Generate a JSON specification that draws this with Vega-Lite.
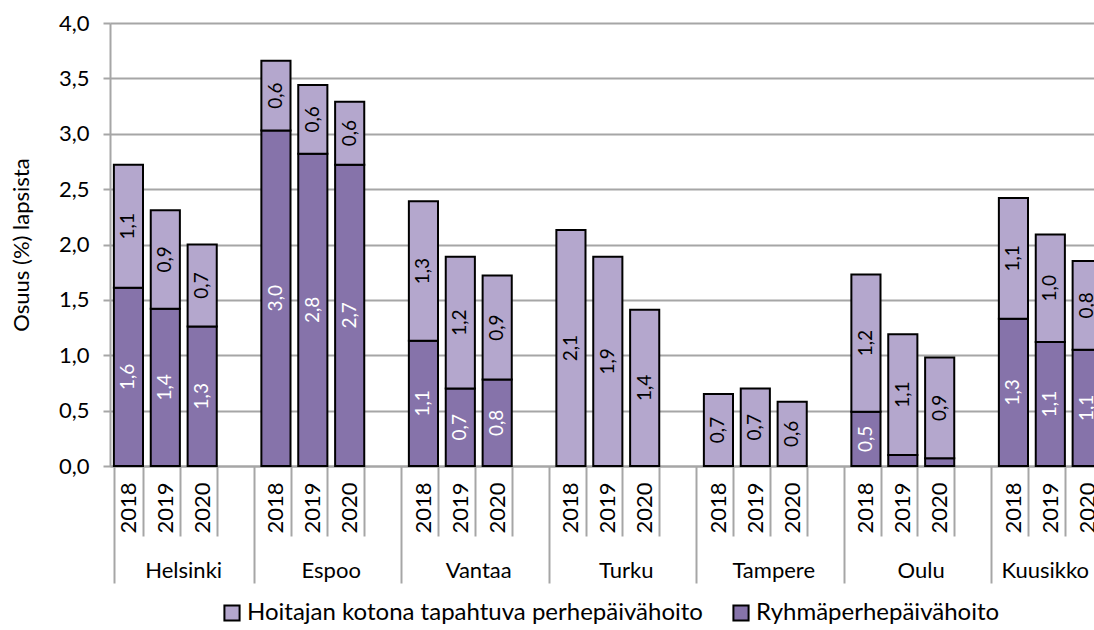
{
  "$schema": "https://vega.github.io/schema/vega-lite/v6.json",
  "autosize": {"type": "none"},
  "width": 984,
  "height": 443,
  "padding": {"left": 110, "top": 23, "right": 0, "bottom": 164},
  "background": "white",
  "config": {
    "font": "Lato",
    "locale": {"number": {"decimal": ",", "thousands": "\u00a0", "grouping": [3], "currency": ["", " €"]}},
    "view": {"stroke": null},
    "axis": {"labelColor": "#000000", "titleColor": "#000000", "labelFont": "Lato", "titleFont": "Lato"},
    "legend": {"labelColor": "#000000", "labelFont": "Lato"}
  },
  "data": {"values": [
    {"slot": "Helsinki|2018", "type": "Ryhmäperhepäivähoito", "value": 1.61},
    {"slot": "Helsinki|2018", "type": "Hoitajan kotona tapahtuva perhepäivähoito", "value": 1.11},
    {"slot": "Helsinki|2019", "type": "Ryhmäperhepäivähoito", "value": 1.42},
    {"slot": "Helsinki|2019", "type": "Hoitajan kotona tapahtuva perhepäivähoito", "value": 0.89},
    {"slot": "Helsinki|2020", "type": "Ryhmäperhepäivähoito", "value": 1.26},
    {"slot": "Helsinki|2020", "type": "Hoitajan kotona tapahtuva perhepäivähoito", "value": 0.74},
    {"slot": "Espoo|2018", "type": "Ryhmäperhepäivähoito", "value": 3.03},
    {"slot": "Espoo|2018", "type": "Hoitajan kotona tapahtuva perhepäivähoito", "value": 0.63},
    {"slot": "Espoo|2019", "type": "Ryhmäperhepäivähoito", "value": 2.82},
    {"slot": "Espoo|2019", "type": "Hoitajan kotona tapahtuva perhepäivähoito", "value": 0.62},
    {"slot": "Espoo|2020", "type": "Ryhmäperhepäivähoito", "value": 2.72},
    {"slot": "Espoo|2020", "type": "Hoitajan kotona tapahtuva perhepäivähoito", "value": 0.57},
    {"slot": "Vantaa|2018", "type": "Ryhmäperhepäivähoito", "value": 1.13},
    {"slot": "Vantaa|2018", "type": "Hoitajan kotona tapahtuva perhepäivähoito", "value": 1.26},
    {"slot": "Vantaa|2019", "type": "Ryhmäperhepäivähoito", "value": 0.70},
    {"slot": "Vantaa|2019", "type": "Hoitajan kotona tapahtuva perhepäivähoito", "value": 1.19},
    {"slot": "Vantaa|2020", "type": "Ryhmäperhepäivähoito", "value": 0.78},
    {"slot": "Vantaa|2020", "type": "Hoitajan kotona tapahtuva perhepäivähoito", "value": 0.94},
    {"slot": "Turku|2018", "type": "Hoitajan kotona tapahtuva perhepäivähoito", "value": 2.13},
    {"slot": "Turku|2019", "type": "Hoitajan kotona tapahtuva perhepäivähoito", "value": 1.89},
    {"slot": "Turku|2020", "type": "Hoitajan kotona tapahtuva perhepäivähoito", "value": 1.41},
    {"slot": "Tampere|2018", "type": "Hoitajan kotona tapahtuva perhepäivähoito", "value": 0.65},
    {"slot": "Tampere|2019", "type": "Hoitajan kotona tapahtuva perhepäivähoito", "value": 0.70},
    {"slot": "Tampere|2020", "type": "Hoitajan kotona tapahtuva perhepäivähoito", "value": 0.58},
    {"slot": "Oulu|2018", "type": "Ryhmäperhepäivähoito", "value": 0.49},
    {"slot": "Oulu|2018", "type": "Hoitajan kotona tapahtuva perhepäivähoito", "value": 1.24},
    {"slot": "Oulu|2019", "type": "Ryhmäperhepäivähoito", "value": 0.10},
    {"slot": "Oulu|2019", "type": "Hoitajan kotona tapahtuva perhepäivähoito", "value": 1.09},
    {"slot": "Oulu|2020", "type": "Ryhmäperhepäivähoito", "value": 0.07},
    {"slot": "Oulu|2020", "type": "Hoitajan kotona tapahtuva perhepäivähoito", "value": 0.91},
    {"slot": "Kuusikko|2018", "type": "Ryhmäperhepäivähoito", "value": 1.33},
    {"slot": "Kuusikko|2018", "type": "Hoitajan kotona tapahtuva perhepäivähoito", "value": 1.09},
    {"slot": "Kuusikko|2019", "type": "Ryhmäperhepäivähoito", "value": 1.12},
    {"slot": "Kuusikko|2019", "type": "Hoitajan kotona tapahtuva perhepäivähoito", "value": 0.97},
    {"slot": "Kuusikko|2020", "type": "Ryhmäperhepäivähoito", "value": 1.05},
    {"slot": "Kuusikko|2020", "type": "Hoitajan kotona tapahtuva perhepäivähoito", "value": 0.80}
  ]},
  "resolve": {"axis": {"x": "independent"}},
  "layer": [
    {
      "mark": {"type": "bar", "stroke": "#000000", "strokeWidth": 2},
      "encoding": {
        "x": {
          "field": "slot", "type": "nominal",
          "scale": {
            "type": "band",
            "domain": ["Helsinki|2018","Helsinki|2019","Helsinki|2020","Helsinki|",
                       "Espoo|2018","Espoo|2019","Espoo|2020","Espoo|",
                       "Vantaa|2018","Vantaa|2019","Vantaa|2020","Vantaa|",
                       "Turku|2018","Turku|2019","Turku|2020","Turku|",
                       "Tampere|2018","Tampere|2019","Tampere|2020","Tampere|",
                       "Oulu|2018","Oulu|2019","Oulu|2020","Oulu|",
                       "Kuusikko|2018","Kuusikko|2019","Kuusikko|2020","Kuusikko|"],
            "range": [0, 1032.5],
            "paddingInner": 0.21,
            "paddingOuter": 0.105
          },
          "axis": {
            "orient": "bottom",
            "title": null,
            "labelExpr": "split(datum.value, '|')[1]",
            "labelAngle": 270,
            "labelFontSize": 22,
            "labelPadding": -54,
            "tickBand": "extent",
            "tickColor": "#A6A6A6",
            "tickWidth": 2,
            "tickSize": {"condition": {"test": "datum.value == null || split(datum.value, '|')[1] == ''", "value": 117}, "value": 70},
            "domainColor": "#A6A6A6",
            "domainWidth": 2,
            "grid": false
          }
        },
        "y": {
          "field": "value", "type": "quantitative", "stack": "zero",
          "scale": {"domain": [0, 4]},
          "axis": {
            "title": "Osuus (%) lapsista",
            "titleFontSize": 22,
            "titleFontWeight": "normal",
            "titlePadding": 25,
            "values": [0, 0.5, 1, 1.5, 2, 2.5, 3, 3.5, 4],
            "format": ".1f",
            "labelFontSize": 22,
            "labelPadding": 14,
            "tickSize": 7,
            "tickColor": "#A6A6A6",
            "tickWidth": 2,
            "domainColor": "#A6A6A6",
            "domainWidth": 2,
            "gridColor": "#A6A6A6",
            "gridWidth": 2
          }
        },
        "color": {
          "field": "type", "type": "nominal",
          "scale": {"domain": ["Hoitajan kotona tapahtuva perhepäivähoito", "Ryhmäperhepäivähoito"], "range": ["#B4A7CD", "#8673AA"]},
          "legend": {
            "title": null,
            "orient": "none",
            "legendX": 110,
            "legendY": 578,
            "direction": "horizontal",
            "symbolType": "square",
            "symbolSize": 230,
            "symbolStrokeColor": "#000000",
            "symbolStrokeWidth": 2,
            "symbolOpacity": 1,
            "labelFontSize": 24,
            "labelOffset": 3,
            "columnPadding": 26,
            "labelLimit": 600
          }
        },
        "order": {"field": "type", "sort": "descending"}
      }
    },
    {
      "transform": [
        {"stack": "value", "groupby": ["slot"], "sort": [{"field": "type", "order": "descending"}], "as": ["v0", "v1"]},
        {"filter": "datum.value >= 0.2"},
        {"calculate": "(datum.v0 + datum.v1) / 2", "as": "mid"}
      ],
      "mark": {"type": "text", "angle": 270, "align": "center", "baseline": "middle", "fontSize": 19},
      "encoding": {
        "x": {
          "field": "slot", "type": "nominal",
          "axis": {
            "orient": "bottom",
            "title": null,
            "values": ["Helsinki|2020","Espoo|2020","Vantaa|2020","Turku|2020","Tampere|2020","Oulu|2020","Kuusikko|2020"],
            "labelExpr": "split(datum.value, '|')[0]",
            "labelAngle": 0,
            "labelFontSize": 22,
            "labelPadding": 94,
            "labelBaseline": "top",
            "labelOffset": {"condition": {"test": "datum.value == 'Kuusikko|2020'", "value": -42}, "value": -18.5},
            "ticks": false,
            "domain": false,
            "grid": false
          }
        },
        "y": {"field": "mid", "type": "quantitative"},
        "text": {"field": "value", "type": "quantitative", "format": ".1f"},
        "color": {
          "condition": {"test": "datum.type == 'Ryhmäperhepäivähoito'", "value": "#FFFFFF"},
          "value": "#000000"
        }
      }
    }
  ]
}
